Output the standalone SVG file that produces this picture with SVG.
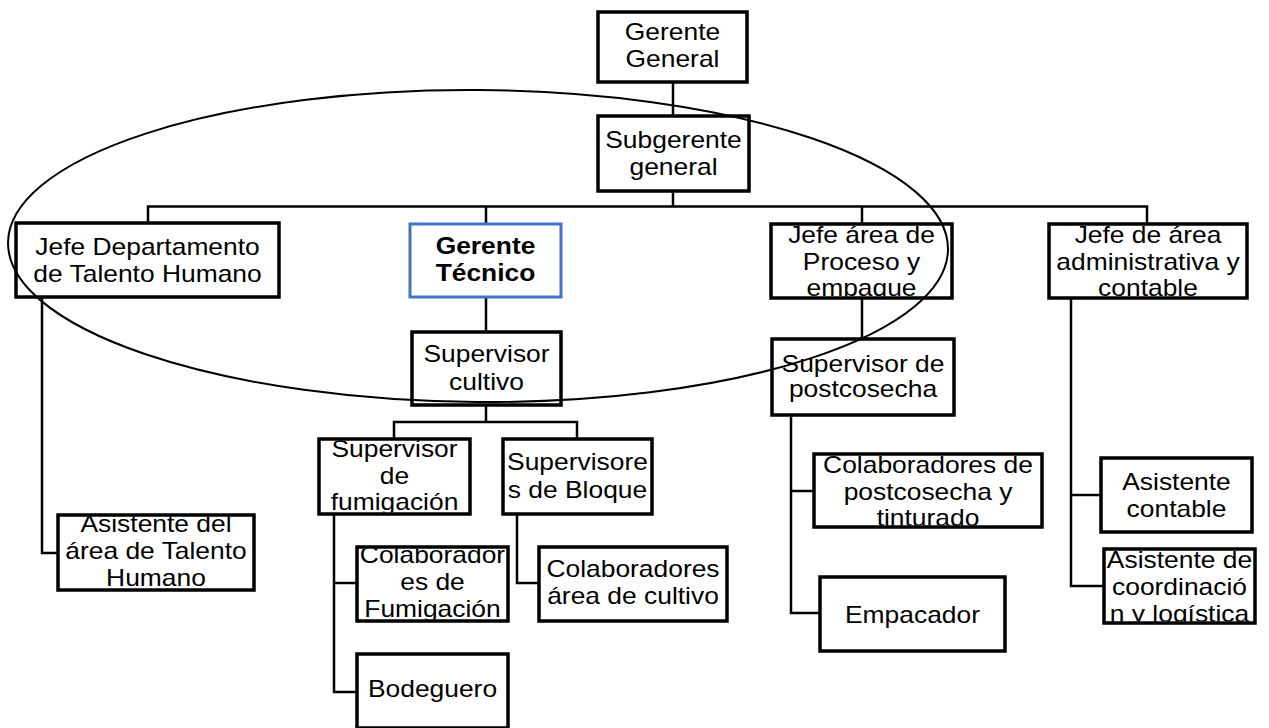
<svg xmlns="http://www.w3.org/2000/svg" width="1269" height="728" viewBox="0 0 1269 728">
<style>
.box{fill:#fff;stroke:#000;stroke-width:3.5}
.blue{fill:#fff;stroke:#4472C4;stroke-width:3}
.t{font-family:"Liberation Sans",Arial,Helvetica,sans-serif;font-size:23px;text-anchor:middle;fill:#000}
.b{font-weight:bold}
.conn path{fill:none;stroke:#000;stroke-width:2.5}
.oval{fill:none;stroke:#000;stroke-width:2}
</style>
<defs>
<clipPath id="c-gg"><rect x="599.5" y="13.5" width="146" height="67"/></clipPath>
<clipPath id="c-sg"><rect x="599.5" y="117.5" width="148" height="72"/></clipPath>
<clipPath id="c-jd"><rect x="17.5" y="224.5" width="260" height="71"/></clipPath>
<clipPath id="c-gt"><rect x="411.5" y="225.5" width="148" height="70"/></clipPath>
<clipPath id="c-pr"><rect x="772.5" y="225.5" width="178" height="71"/></clipPath>
<clipPath id="c-ad"><rect x="1050.5" y="225.5" width="195" height="71"/></clipPath>
<clipPath id="c-sc"><rect x="413.5" y="333.5" width="146" height="70"/></clipPath>
<clipPath id="c-sp"><rect x="773.5" y="340.5" width="179" height="73"/></clipPath>
<clipPath id="c-fu"><rect x="320.5" y="440.5" width="148" height="72"/></clipPath>
<clipPath id="c-bl"><rect x="504.5" y="440.5" width="146" height="72"/></clipPath>
<clipPath id="c-cf"><rect x="358.5" y="548.5" width="148" height="71"/></clipPath>
<clipPath id="c-bo"><rect x="358.5" y="655.5" width="148" height="71"/></clipPath>
<clipPath id="c-cc"><rect x="540.5" y="548.5" width="185" height="71"/></clipPath>
<clipPath id="c-ath"><rect x="59.5" y="516.5" width="193" height="72"/></clipPath>
<clipPath id="c-cp"><rect x="815.5" y="455.5" width="225" height="70"/></clipPath>
<clipPath id="c-em"><rect x="821.5" y="578.5" width="182" height="71"/></clipPath>
<clipPath id="c-ac"><rect x="1102.5" y="459.5" width="148" height="71"/></clipPath>
<clipPath id="c-aco"><rect x="1105.5" y="550.5" width="148" height="71"/></clipPath>
</defs>
<rect width="1269" height="728" fill="#fff"/>
<g id="connectors" class="conn">
<path d="M673 83V116"/>
<path d="M673 191V206.5"/>
<path d="M148 223V206.5H1147V224"/>
<path d="M486 206.5V224"/>
<path d="M862 206.5V224"/>
<path d="M486 297V332"/>
<path d="M486 405V422"/>
<path d="M394 439V422H577V439"/>
<path d="M334 514V692H357"/>
<path d="M334 583H357"/>
<path d="M517 514V583H539"/>
<path d="M42 297V553H58"/>
<path d="M862 298V339"/>
<path d="M791 415V613H820"/>
<path d="M791 491H814"/>
<path d="M1071 298V586H1104"/>
<path d="M1071 495H1101"/>
</g>
<g id="gerente-general"><rect class="box" x="598" y="12" width="149" height="70"/><g clip-path="url(#c-gg)"><text class="t" transform="translate(672.5 0) scale(1.148 1)"><tspan x="0" y="40">Gerente</tspan><tspan x="0" y="67">General</tspan></text></g></g>
<g id="subgerente-general"><rect class="box" x="598" y="116" width="151" height="75"/><g clip-path="url(#c-sg)"><text class="t" transform="translate(673.5 0) scale(1.148 1)"><tspan x="0" y="148">Subgerente</tspan><tspan x="0" y="175">general</tspan></text></g></g>
<g id="jefe-talento-humano"><rect class="box" x="16" y="223" width="263" height="74"/><g clip-path="url(#c-jd)"><text class="t" transform="translate(147.5 0) scale(1.148 1)"><tspan x="0" y="255">Jefe Departamento</tspan><tspan x="0" y="282">de Talento Humano</tspan></text></g></g>
<g id="gerente-tecnico"><rect class="blue" x="410" y="224" width="151" height="73"/><g clip-path="url(#c-gt)"><text class="t b" transform="translate(485.5 0) scale(1.148 1)"><tspan x="0" y="254">Gerente</tspan><tspan x="0" y="281">Técnico</tspan></text></g></g>
<g id="jefe-proceso"><rect class="box" x="771" y="224" width="181" height="74"/><g clip-path="url(#c-pr)"><text class="t" transform="translate(861.5 0) scale(1.148 1)"><tspan x="0" y="243">Jefe área de</tspan><tspan x="0" y="270">Proceso y</tspan><tspan x="0" y="296">empaque</tspan></text></g></g>
<g id="jefe-administrativa"><rect class="box" x="1049" y="224" width="198" height="74"/><g clip-path="url(#c-ad)"><text class="t" transform="translate(1148 0) scale(1.148 1)"><tspan x="0" y="243">Jefe de área</tspan><tspan x="0" y="270">administrativa y</tspan><tspan x="0" y="296">contable</tspan></text></g></g>
<g id="supervisor-cultivo"><rect class="box" x="412" y="332" width="149" height="73"/><g clip-path="url(#c-sc)"><text class="t" transform="translate(486.5 0) scale(1.148 1)"><tspan x="0" y="362">Supervisor</tspan><tspan x="0" y="390">cultivo</tspan></text></g></g>
<g id="supervisor-postcosecha"><rect class="box" x="772" y="339" width="182" height="76"/><g clip-path="url(#c-sp)"><text class="t" transform="translate(863 0) scale(1.148 1)"><tspan x="0" y="372">Supervisor de</tspan><tspan x="0" y="397">postcosecha</tspan></text></g></g>
<g id="supervisor-fumigacion"><rect class="box" x="319" y="439" width="151" height="75"/><g clip-path="url(#c-fu)"><text class="t" transform="translate(394.5 0) scale(1.148 1)"><tspan x="0" y="457">Supervisor</tspan><tspan x="0" y="484">de</tspan><tspan x="0" y="510">fumigación</tspan></text></g></g>
<g id="supervisores-bloque"><rect class="box" x="503" y="439" width="149" height="75"/><g clip-path="url(#c-bl)"><text class="t" transform="translate(577.5 0) scale(1.148 1)"><tspan x="0" y="470">Supervisore</tspan><tspan x="0" y="498">s de Bloque</tspan></text></g></g>
<g id="colaboradores-fumigacion"><rect class="box" x="357" y="547" width="151" height="74"/><g clip-path="url(#c-cf)"><text class="t" transform="translate(432.5 0) scale(1.148 1)"><tspan x="0" y="563">Colaborador</tspan><tspan x="0" y="590">es de</tspan><tspan x="0" y="617">Fumigación</tspan></text></g></g>
<g id="bodeguero"><rect class="box" x="357" y="654" width="151" height="74"/><g clip-path="url(#c-bo)"><text class="t" transform="translate(432.5 0) scale(1.148 1)"><tspan x="0" y="697">Bodeguero</tspan></text></g></g>
<g id="colaboradores-cultivo"><rect class="box" x="539" y="547" width="188" height="74"/><g clip-path="url(#c-cc)"><text class="t" transform="translate(633 0) scale(1.148 1)"><tspan x="0" y="577">Colaboradores</tspan><tspan x="0" y="604">área de cultivo</tspan></text></g></g>
<g id="asistente-talento-humano"><rect class="box" x="58" y="515" width="196" height="75"/><g clip-path="url(#c-ath)"><text class="t" transform="translate(156 0) scale(1.148 1)"><tspan x="0" y="532">Asistente del</tspan><tspan x="0" y="559">área de Talento</tspan><tspan x="0" y="586">Humano</tspan></text></g></g>
<g id="colaboradores-postcosecha"><rect class="box" x="814" y="454" width="228" height="73"/><g clip-path="url(#c-cp)"><text class="t" transform="translate(928 0) scale(1.148 1)"><tspan x="0" y="473">Colaboradores de</tspan><tspan x="0" y="500">postcosecha y</tspan><tspan x="0" y="526">tinturado</tspan></text></g></g>
<g id="empacador"><rect class="box" x="820" y="577" width="185" height="74"/><g clip-path="url(#c-em)"><text class="t" transform="translate(912.5 0) scale(1.148 1)"><tspan x="0" y="623">Empacador</tspan></text></g></g>
<g id="asistente-contable"><rect class="box" x="1101" y="458" width="151" height="74"/><g clip-path="url(#c-ac)"><text class="t" transform="translate(1176.5 0) scale(1.148 1)"><tspan x="0" y="490">Asistente</tspan><tspan x="0" y="517">contable</tspan></text></g></g>
<g id="asistente-coordinacion"><rect class="box" x="1104" y="549" width="151" height="74"/><g clip-path="url(#c-aco)"><text class="t" transform="translate(1179.5 0) scale(1.148 1)"><tspan x="0" y="568">Asistente de</tspan><tspan x="0" y="595">coordinació</tspan><tspan x="0" y="622">n y logística</tspan></text></g></g>
<ellipse class="oval" cx="478" cy="246" rx="470" ry="156" transform="rotate(0.4 478 246)"/>
</svg>
